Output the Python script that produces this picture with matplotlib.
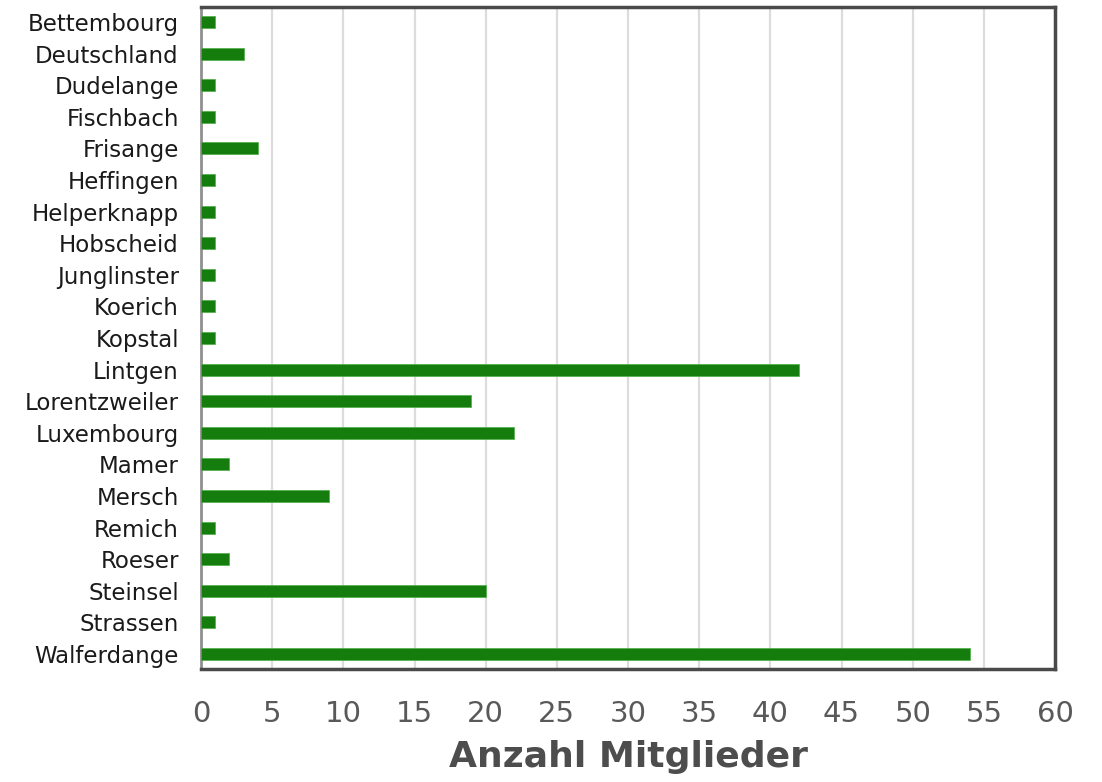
import matplotlib
matplotlib.use("Agg")
import matplotlib.pyplot as plt

# member counts per place
places = ["Bettembourg", "Deutschland", "Dudelange", "Fischbach", "Frisange",
          "Heffingen", "Helperknapp", "Hobscheid", "Junglinster", "Koerich",
          "Kopstal", "Lintgen", "Lorentzweiler", "Luxembourg", "Mamer",
          "Mersch", "Remich", "Roeser", "Steinsel", "Strassen", "Walferdange"]
members = [1, 3, 1, 1, 4, 1, 1, 1, 1, 1, 1, 42, 19, 22, 2, 9, 1, 2, 20, 1, 54]
x_ticks = list(range(0, 61, 5))

BAR_GREEN = "#157d0e"
FRAME_DARK = "#4a4a4a"
TICK_GRAY = "#595959"
GRID_GRAY = "#dcdcdc"

plt.rcParams["font.family"] = "DejaVu Sans"

fig = plt.figure(figsize=(11.02, 7.82), dpi=100)
ax = fig.add_axes([0.1824, 0.1445, 0.775, 0.8465])

ypos = list(range(len(places)))
ax.barh(ypos, members, height=0.38, color=BAR_GREEN, edgecolor="#4caf45",
        linewidth=0.5, zorder=3)

ax.set_xlim(0, 60)
ax.set_ylim(len(places) - 1 + 0.475, -0.475)
ax.set_xticks(x_ticks)
ax.set_yticks(ypos)
ax.set_yticklabels(places)

ax.grid(axis="x", color=GRID_GRAY, linewidth=1.6, zorder=0)
ax.set_axisbelow(True)

ax.tick_params(axis="x", length=0, pad=22, labelsize=21, labelcolor=TICK_GRAY)
ax.tick_params(axis="y", length=0, pad=16, labelsize=16.5, labelcolor="#1a1a1a")

for side in ["top", "right", "bottom"]:
    ax.spines[side].set_color(FRAME_DARK)
    ax.spines[side].set_linewidth(2.5)
ax.spines["left"].set_color("#909090")
ax.spines["left"].set_linewidth(2)

ax.set_xlabel("Anzahl Mitglieder", fontsize=26, fontweight="bold",
              color="#4d4d4d", labelpad=9)

fig.savefig("out.png", dpi=100, facecolor="white")
